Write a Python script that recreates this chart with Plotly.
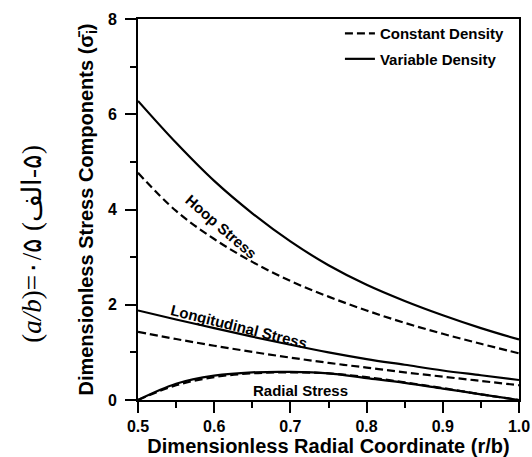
import plotly.graph_objects as go

# ---- data ----
x_vals = [0.50, 0.55, 0.60, 0.65, 0.70, 0.75, 0.80, 0.85, 0.90, 0.95, 1.00]
hoop_var = [6.28, 5.40, 4.60, 3.92, 3.33, 2.83, 2.42, 2.08, 1.78, 1.51, 1.27]
hoop_const = [4.77, 3.97, 3.38, 2.90, 2.50, 2.17, 1.88, 1.62, 1.39, 1.18, 0.98]
long_var = [1.88, 1.69, 1.51, 1.33, 1.16, 1.00, 0.86, 0.74, 0.62, 0.52, 0.42]
long_const = [1.43, 1.28, 1.14, 1.01, 0.89, 0.78, 0.68, 0.58, 0.49, 0.40, 0.31]
rad_var = [0.00, 0.34, 0.51, 0.58, 0.59, 0.56, 0.46, 0.36, 0.24, 0.12, 0.00]
rad_const = [0.00, 0.31, 0.48, 0.56, 0.58, 0.56, 0.48, 0.37, 0.25, 0.12, 0.00]

x_ticks = [0.5, 0.6, 0.7, 0.8, 0.9, 1.0]
y_ticks = [0, 2, 4, 6, 8]

SANS = "Liberation Sans, Arial, sans-serif"
DASH = "8px,4px"

fig = go.Figure()

def add(y, dash, name, show, group):
    fig.add_trace(go.Scatter(
        x=x_vals, y=y, mode="lines", name=name, showlegend=show,
        legendgroup=group,
        line=dict(color="black", width=2.2, dash=dash, shape="spline", smoothing=1.0),
    ))

add(hoop_const, DASH, "Constant Density", True, "c")
add(long_const, DASH, "Constant Density", False, "c")
add(rad_const, DASH, "Constant Density", False, "c")
add(hoop_var, "solid", "Variable Density", True, "v")
add(long_var, "solid", "Variable Density", False, "v")
add(rad_var, "solid", "Variable Density", False, "v")

lbl_font = dict(family=SANS, size=15, color="black", weight="bold")
fig.add_annotation(x=0.609, y=3.64, text="Hoop Stress", textangle=41,
                   showarrow=False, font=lbl_font)
fig.add_annotation(x=0.633, y=1.55, text="Longitudinal Stress", textangle=14,
                   showarrow=False, font=lbl_font)
fig.add_annotation(x=0.713, y=0.21, text="Radial Stress", textangle=0,
                   showarrow=False, font=lbl_font)

fig.add_annotation(x=-0.278, y=0.41, xref="paper", yref="paper",
                   xanchor="center", yanchor="middle",
                   text="(<i>a/b</i>)=۰/۵ (الف\u200e-۵)", textangle=-90,
                   showarrow=False,
                   font=dict(family="Liberation Serif, DejaVu Serif, serif", size=27, color="black"))

axis_common = dict(
    showline=True, linecolor="black", linewidth=2, mirror=True,
    ticks="outside", ticklen=11, tickwidth=2, tickcolor="black",
    showgrid=False, zeroline=False, automargin=False,
    tickfont=dict(family=SANS, size=16, color="black", weight="bold"),
)

fig.update_xaxes(
    range=[0.5, 1.0], tickvals=x_ticks, tickformat=".1f",
    minor=dict(ticks="outside", ticklen=6, tickwidth=2, tickcolor="black", dtick=0.05, tick0=0.5),
    title=dict(text="Dimensionless Radial Coordinate (r/b)",
               font=dict(family=SANS, size=20, color="black", weight="bold"), standoff=4),
    **axis_common,
)
fig.update_yaxes(
    range=[0, 8], tickvals=y_ticks, ticklabelstandoff=5,
    minor=dict(ticks="outside", ticklen=6, tickwidth=2, tickcolor="black", dtick=1, tick0=0),
    title=dict(text="Dimensionless Stress Components (σ\u0304<sub>i</sub>)",
               font=dict(family=SANS, size=20, color="black", weight="bold"), standoff=9),
    **axis_common,
)

fig.update_layout(
    width=532, height=457,
    margin=dict(l=138, r=13, t=19, b=57, autoexpand=False),
    paper_bgcolor="white", plot_bgcolor="white",
    legend=dict(x=0.53, y=1.005, xanchor="left", yanchor="top",
                font=dict(family=SANS, size=15, color="black", weight="bold"),
                bgcolor="rgba(0,0,0,0)", tracegroupgap=3, traceorder="grouped"),
)

fig.write_html("out.html")
